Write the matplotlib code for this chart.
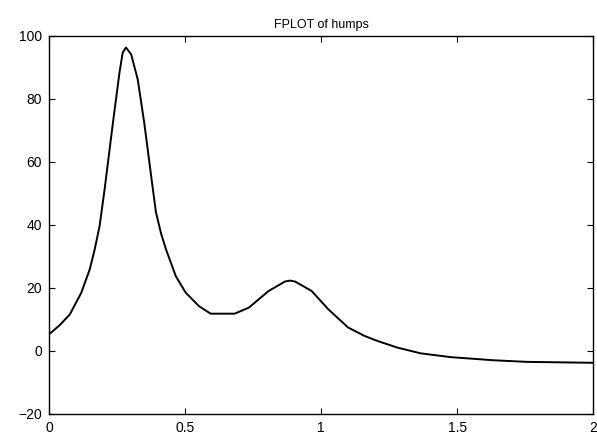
import matplotlib
matplotlib.use("Agg")
import matplotlib.pyplot as plt

plt.rcParams['font.family'] = ['Liberation Sans', 'DejaVu Sans']

title = "FPLOT of humps"
x_vals = [0.0, 0.04, 0.077, 0.119, 0.15, 0.168, 0.186, 0.204, 0.235, 0.259,
          0.271, 0.283, 0.302, 0.326, 0.350, 0.381, 0.393, 0.412,
          0.43, 0.466, 0.502, 0.551, 0.594, 0.682, 0.734, 0.807, 0.867, 0.885,
          0.904, 0.965, 1.026, 1.099, 1.16, 1.208, 1.281, 1.366, 1.476, 1.634,
          1.755, 2.0]
y_vals = [5.2, 8.2, 11.6, 18.5, 25.9, 32.2, 39.6, 51.0, 72.4, 88.3,
          94.7, 96.3, 94.1, 86.2, 72.4, 51.8, 44.0, 37.2,
          32.2, 23.7, 18.5, 14.2, 11.8, 11.8, 13.7, 19.0, 22.0, 22.3,
          22.0, 19.0, 13.2, 7.4, 4.7, 3.1, 1.0, -0.8, -2.0, -3.0,
          -3.5, -3.8]
x_ticks = [0, 0.5, 1, 1.5, 2]
x_tick_labels = ["0", "0.5", "1", "1.5", "2"]
y_ticks = [-20, 0, 20, 40, 60, 80, 100]

fig = plt.figure(figsize=(5.97, 4.37), dpi=100)
ax = fig.add_axes([0.082, 0.053, 0.912, 0.865])
ax.plot(x_vals, y_vals, color='black', linewidth=1.4)
ax.set_xlim(0, 2)
ax.set_ylim(-20, 100)
ax.set_xticks(x_ticks)
ax.set_xticklabels(x_tick_labels)
ax.set_yticks(y_ticks)
ax.tick_params(direction='in', length=4, width=0.8, labelsize=10,
               top=True, right=True, pad=5)
for s in ax.spines.values():
    s.set_linewidth(1.0)
ax.set_title(title, fontsize=9, pad=6)
fig.savefig("out.png", dpi=100)
